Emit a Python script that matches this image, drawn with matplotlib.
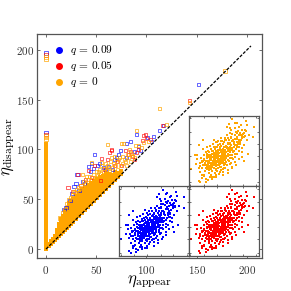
import numpy as np
import matplotlib
matplotlib.use('Agg')
import matplotlib.pyplot as plt

plt.rcParams['mathtext.fontset'] = 'cm'
plt.rcParams['font.family'] = 'cmr10'
plt.rcParams['axes.formatter.use_mathtext'] = True
plt.rcParams['axes.unicode_minus'] = False

# --- scattered points of the main panel ---
blue_x = [0, 0, 90, 84, 80, 101, 48, 74, 70, 45, 42, 51, 57, 59, 28, 31, 80, 94, 152, 117, 113, 107, 105,
          18, 24, 33, 38, 62, 66, 20, 36, 44, 53, 68, 72, 88, 92, 26, 30, 47]
blue_y = [197, 117, 115, 108, 106, 112, 95, 99, 92, 86, 83, 84, 82, 80, 63, 75, 92, 99, 165, 124, 119, 113, 108,
          40, 49, 59, 66, 83, 80, 42, 68, 78, 86, 90, 95, 98, 103, 56, 66, 81]
red_x = [0, 0, 99, 96, 63, 65, 55, 79, 84, 92, 22, 32, 42, 71, 86, 54, 143, 116, 97, 100, 65, 75, 88, 45,
         27, 35, 39, 48, 58, 61, 68, 82, 90, 104]
red_y = [195, 115, 115, 109, 97, 100, 91, 99, 98, 100, 62, 75, 79, 88, 93, 69, 149, 124, 114, 111, 99, 84, 90, 72,
         58, 64, 70, 84, 80, 90, 84, 95, 97, 110]
orange_x = [0, 0, 0, 0, 0, 90, 61, 75, 77, 89, 92, 97, 55, 65, 45, 61, 37, 36, 76, 81, 102, 143, 113, 178, 120,
            83, 70, 52, 40, 28, 68, 58, 72, 95, 85, 79,
            14, 17, 19, 21, 23, 25, 27, 29, 31, 33, 34, 35, 37, 39, 41, 42, 43, 45, 47, 49, 50, 51, 53, 54, 55,
            57, 59, 60, 62, 63, 64, 66, 67, 69, 71, 73, 74, 76, 78, 80, 82, 84, 86, 88]
orange_y = [193, 191, 114, 112, 110, 119, 105, 106, 106, 104, 104, 107, 87, 92, 87, 84, 68, 75, 93, 95, 108, 147,
            141, 179, 125, 100, 88, 78, 73, 58, 93, 81, 90, 102, 96, 88,
            31, 37, 40, 46, 50, 52, 55, 57, 60, 62, 58, 64, 62, 66, 70, 64, 73, 70, 75, 72, 78, 74, 80, 76, 84,
            78, 86, 80, 82, 78, 88, 82, 86, 84, 80, 92, 84, 86, 90, 84, 92, 88, 94, 92]

# dense part of the q = 0 series
column_y = [0, 3, 7, 10, 14, 17, 21, 24, 28, 31, 35, 38, 42, 45, 49, 52, 56, 59, 63, 66, 70, 73, 77, 80, 84, 87,
            91, 94, 98, 101, 104, 106]
wedge_cols = [3, 5, 7, 9, 11, 13, 15, 17, 19, 21, 23, 25, 27, 30, 33, 36, 39, 42, 45, 48, 51, 54, 57, 60, 63, 66,
              69, 72, 75]
wedge_rows = [[3, 5], [5, 8], [7, 10], [9, 13], [11, 15, 19], [13, 17, 21, 25], [15, 19, 23, 27, 30],
              [17, 21, 25, 29, 33], [19, 23, 27, 31, 35, 38], [21, 25, 29, 33, 37, 41],
              [23, 27, 31, 35, 39, 43, 46], [25, 29, 33, 37, 41, 45, 48], [27, 31, 35, 39, 43, 47, 50],
              [30, 34, 38, 42, 46, 50, 53], [33, 37, 41, 45, 49, 53, 56], [36, 40, 44, 48, 52, 56, 59],
              [39, 43, 47, 51, 55, 59, 61], [42, 46, 50, 54, 58, 62, 64], [45, 49, 53, 57, 61, 65, 66],
              [48, 52, 56, 60, 64, 68], [51, 55, 59, 63, 67, 70], [54, 58, 62, 66, 70, 72],
              [57, 61, 65, 69, 73], [60, 64, 68, 72, 75], [63, 67, 71, 75], [66, 70, 74], [69, 73, 77],
              [72, 76], [75, 78]]

# identity guide
guide_x = [0, 204]
guide_y = [0, 204]

# --- inset cloud, on a 0-100 scale of each inset ---
inset_x = [26, 29, 31, 34, 36, 38, 41, 43, 46, 48, 51, 53, 27, 30, 33, 35, 37, 40, 42, 45,
           47, 50, 52, 55, 57, 24, 28, 31, 33, 36, 39, 41, 44, 47, 49, 52, 54, 56, 59, 61,
           22, 25, 27, 30, 32, 35, 38, 40, 43, 45, 48, 50, 53, 55, 58, 60, 62, 64, 26, 29,
           32, 35, 38, 41, 44, 47, 50, 20, 23, 26, 29, 32, 34, 37, 39, 42, 44, 46, 49, 51,
           34, 37, 40, 43, 46, 49, 52, 55, 58, 61, 64, 66, 69, 71, 74, 57, 60, 63, 65, 68,
           70, 73, 76, 67, 72, 75, 78, 62, 59, 56, 53, 50, 47, 44, 41, 38, 35, 65, 68, 71,
           18, 21, 24, 27, 15, 19, 23, 17, 14, 12, 10, 20, 25, 28, 31, 16, 21, 26, 30, 34,
           37, 40, 43, 46, 49, 52, 55, 58, 36, 39, 33, 30, 27, 22, 19, 24, 28, 33, 38, 42,
           45, 48, 51, 54, 57, 60, 63, 66, 69, 72, 75, 78, 42, 45, 48, 51, 54, 39, 36, 33,
           28, 31, 34, 37, 40, 43, 46, 49, 29, 32, 35, 38, 41, 44, 47, 50, 30, 33, 36, 39,
           42, 45, 48, 51, 25, 28, 31, 34, 37, 40, 43, 46, 49, 52, 55, 58, 61, 56, 59, 53,
           62, 81, 57, 54, 66, 93, 83, 3, 14, 16, 9, 14, 20, 85, 92, 84, 76, 78, 66, 61,
           50, 24, 33, 73, 69, 64, 80, 83, 76, 70, 60, 55, 67, 72, 79, 81, 74, 63, 58, 68,
           44, 38, 32, 27, 50, 56, 61, 66, 71, 35, 41, 47, 53, 59, 64, 69, 74, 29, 24, 20,
           36, 42, 48, 54, 60, 65, 70, 34, 40, 46, 52, 58, 63, 68, 73, 31, 37, 43, 49, 55,
           30, 36, 42, 48, 54, 33, 39, 45, 51, 57, 35, 41, 47, 53, 38, 44, 50, 32, 28, 23,
           16, 18, 22, 25, 12, 19, 39, 44, 49, 55, 62, 67, 71, 75, 77, 80, 60, 52, 46, 40]
inset_y = [30, 27, 33, 29, 35, 31, 37, 33, 40, 36, 43, 39, 36, 39, 41, 37, 43, 39, 45, 42,
           47, 44, 50, 46, 52, 26, 33, 37, 45, 47, 41, 49, 36, 44, 53, 37, 56, 42, 48, 54,
           38, 42, 34, 44, 31, 40, 33, 43, 32, 48, 41, 48, 34, 51, 40, 58, 44, 55, 25, 22,
           24, 26, 28, 29, 27, 33, 30, 29, 33, 40, 35, 38, 34, 37, 46, 41, 51, 37, 38, 55,
           50, 52, 55, 47, 57, 60, 47, 61, 56, 64, 60, 67, 62, 72, 66, 65, 70, 65, 73, 70,
           78, 76, 71, 77, 84, 80, 76, 74, 75, 68, 65, 62, 64, 60, 58, 56, 55, 82, 76, 65,
           34, 44, 48, 50, 32, 25, 21, 40, 26, 38, 31, 52, 56, 18, 16, 19, 14, 28, 57, 60,
           18, 21, 17, 23, 20, 26, 23, 31, 12, 15, 10, 13, 8, 16, 11, 6, 25, 21, 23, 25,
           27, 24, 31, 29, 35, 33, 38, 41, 45, 50, 54, 58, 64, 68, 59, 68, 72, 62, 66, 50,
           28, 31, 34, 32, 34, 30, 34, 33, 41, 43, 46, 48, 51, 53, 50, 46, 25, 27, 30, 35,
           38, 40, 38, 41, 46, 44, 41, 36, 40, 36, 43, 39, 45, 51, 49, 53, 51, 59, 61, 57,
           95, 92, 88, 84, 89, 84, 86, 24, 7, 5, 44, 58, 65, 72, 69, 45, 41, 35, 34, 25,
           25, 10, 13, 62, 58, 50, 80, 65, 68, 60, 79, 54, 52, 56, 70, 78, 86, 48, 82, 90,
           31, 35, 30, 31, 32, 37, 40, 46, 56, 44, 47, 50, 48, 60, 63, 67, 73, 48, 36, 36,
           37, 35, 39, 42, 51, 58, 62, 32, 36, 34, 40, 44, 50, 55, 60, 28, 29, 38, 45, 43,
           38, 42, 46, 50, 54, 28, 24, 38, 46, 49, 33, 43, 51, 57, 49, 55, 56, 53, 44, 30,
           28, 36, 37, 24, 44, 15, 12, 20, 15, 18, 27, 30, 38, 48, 74, 71, 68, 66, 64, 62]
inset_xticks = [2, 21, 40, 59, 77, 96]
inset_yticks = [5, 24, 42, 59, 77, 96]

BLUE = '#0000ff'
RED = '#ff0000'
ORANGE = '#ffa500'
EDGE = '#555555'

fig = plt.figure(figsize=(2.91, 2.91), dpi=100)
ax = fig.add_axes([36.5 / 291, 33 / 291, 225.5 / 291, 224 / 291])

# dense part first so the open squares stay on top of it
dense_x = np.repeat(wedge_cols, [len(r) for r in wedge_rows])
dense_y = np.concatenate(wedge_rows)
ax.scatter(dense_x, dense_y, marker='s', s=8, color=ORANGE, linewidths=0)
ax.scatter(np.zeros(len(column_y)), column_y, marker='s', s=8, color=ORANGE, linewidths=0)

# open squares, the three series one over the other
ax.scatter(blue_x, blue_y, marker='s', s=6, facecolors='none', edgecolors=BLUE, linewidths=0.6, alpha=0.7)
ax.scatter(red_x, red_y, marker='s', s=6, facecolors='none', edgecolors=RED, linewidths=0.6, alpha=0.7)
ax.scatter(orange_x, orange_y, marker='s', s=6, facecolors='none', edgecolors=ORANGE, linewidths=0.6, alpha=0.8)
ax.plot(guide_x, guide_y, color='black', linestyle='--', linewidth=0.9, dashes=(2.5, 1.2))

# legend handles only
h1 = ax.scatter([], [], s=16, color=BLUE, label=r'$q\,=\,0.09$')
h2 = ax.scatter([], [], s=16, color=RED, label=r'$q\,=\,0.05$')
h3 = ax.scatter([], [], s=16, color=ORANGE, label=r'$q\,=\,0$')
ax.legend(handles=[h1, h2, h3], loc='upper left', frameon=False, fontsize=8.2,
          bbox_to_anchor=(0.01, 1.0), labelspacing=0.15, handletextpad=-0.1, borderpad=0.3)

ax.set_xlim(-9.5, 215)
ax.set_ylim(-9, 216)
ax.set_xticks([0, 50, 100, 150, 200])
ax.set_yticks([0, 50, 100, 150, 200])
ax.set_xticklabels([f'${v}$' for v in [0, 50, 100, 150, 200]])
ax.set_yticklabels([f'${v}$' for v in [0, 50, 100, 150, 200]])
ax.tick_params(direction='in', top=True, right=True, length=2.2, width=0.6, labelsize=8,
               color=EDGE, labelcolor='#333333', pad=1.5)
ax.tick_params(axis='x', pad=4)
ax.set_xlabel(r'$\eta_{\mathrm{appear}}$', fontsize=12)
ax.set_ylabel(r'$\eta_{\mathrm{disappear}}$', fontsize=12)
ax.xaxis.set_label_coords(0.50, -0.07)
ax.yaxis.set_label_coords(-0.085, 0.498)
for s in ax.spines.values():
    s.set_linewidth(0.9)
    s.set_color(EDGE)

# three insets show the same kind of cloud, one colour each
inset_boxes = [
    (189, 115.7, ORANGE),
    (119.3, 186, BLUE),
    (189, 186, RED),
]
for x0, y0, col in inset_boxes:
    iax = fig.add_axes([x0 / 291, 1 - (y0 + 70) / 291, 70 / 291, 70 / 291])
    iax.scatter(inset_x, inset_y, marker='s', s=2.4, color=col, linewidths=0)
    iax.set_xlim(0, 100)
    iax.set_ylim(0, 100)
    iax.set_xticks(inset_xticks)
    iax.set_yticks(inset_yticks)
    iax.tick_params(direction='in', top=True, right=True, length=1.5, width=0.5, color='#333333',
                    labelbottom=False, labelleft=False)
    for s in iax.spines.values():
        s.set_linewidth(0.9)
        s.set_color(EDGE)

fig.savefig('out.png', dpi=100)
